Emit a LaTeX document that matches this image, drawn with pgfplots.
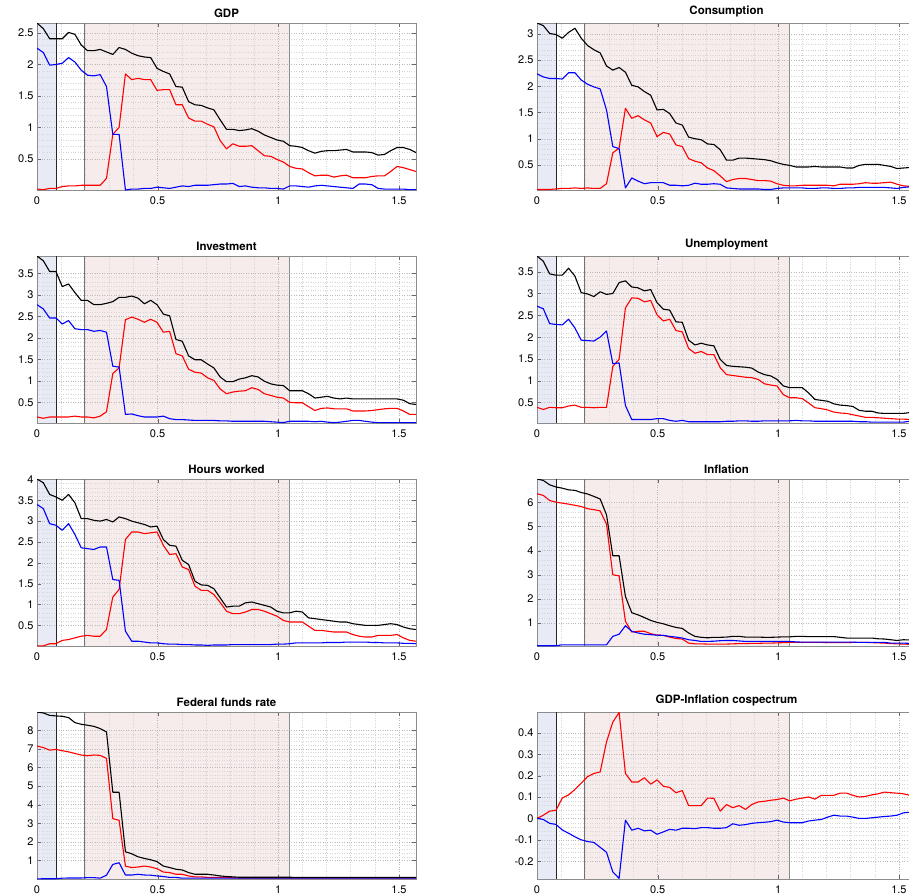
\documentclass[border=0pt]{standalone}
\usepackage{fontspec}
\setmainfont{TeX Gyre Heros}
\usepackage{pgfplots}
\usepackage{pgfplotstable}
\pgfplotsset{compat=1.18}
\definecolor{bshade}{RGB}{232,234,246}
\definecolor{pshade}{RGB}{246,236,236}
\definecolor{mred}{RGB}{255,0,0}
\definecolor{mblue}{RGB}{0,0,255}

\pgfplotstableread{
x b r u
0 2.66 0.02 2.26
0.0262 2.57 0.01 2.19
0.0524 2.41 0.03 1.99
0.0785 2.41 0.03 2.00
0.1047 2.41 0.06 2.02
0.1309 2.51 0.07 2.11
0.1571 2.48 0.07 2.04
0.1833 2.31 0.08 1.91
0.2094 2.22 0.08 1.83
0.2356 2.22 0.08 1.82
0.2618 2.24 0.08 1.84
0.2880 2.20 0.19 1.65
0.3142 2.16 0.89 0.89
0.3403 2.27 1.00 0.89
0.3665 2.24 1.85 0.005
0.3927 2.18 1.76 0.02
0.4189 2.14 1.78 0.02
0.4451 2.12 1.76 0.03
0.4712 2.11 1.76 0.03
0.4974 1.94 1.59 0.05
0.5236 1.89 1.60 0.04
0.5498 1.85 1.60 0.03
0.5760 1.65 1.36 0.05
0.6021 1.64 1.36 0.07
0.6283 1.41 1.15 0.06
0.6545 1.36 1.10 0.08
0.6807 1.35 1.10 0.08
0.7069 1.31 1.05 0.08
0.7330 1.28 1.01 0.09
0.7592 1.12 0.79 0.10
0.7854 0.97 0.66 0.10
0.8116 0.97 0.74 0.11
0.8378 0.95 0.70 0.06
0.8639 0.96 0.70 0.07
0.8901 0.98 0.71 0.05
0.9163 0.94 0.63 0.04
0.9425 0.88 0.55 0.04
0.9687 0.84 0.54 0.03
0.9948 0.80 0.49 0.03
1.0210 0.78 0.45 0.02
1.0472 0.71 0.38 0.07
1.0734 0.70 0.35 0.07
1.0996 0.68 0.34 0.06
1.1257 0.63 0.28 0.05
1.1519 0.59 0.23 0.07
1.1781 0.62 0.24 0.08
1.2043 0.63 0.24 0.07
1.2305 0.63 0.21 0.06
1.2566 0.64 0.23 0.05
1.2828 0.65 0.24 0.04
1.3090 0.61 0.20 0.03
1.3352 0.61 0.20 0.10
1.3614 0.61 0.20 0.10
1.3875 0.60 0.22 0.09
1.4137 0.56 0.23 0.03
1.4399 0.57 0.23 0.02
1.4661 0.63 0.30 0.02
1.4923 0.68 0.38 0.02
1.5184 0.68 0.36 0.02
1.5446 0.65 0.33 0.01
1.5708 0.60 0.30 0.01
}\gdp

\pgfplotstableread{
x b r u
0 3.21 0.03 2.24
0.0262 3.16 0.03 2.18
0.0524 3.01 0.03 2.15
0.0785 2.99 0.04 2.15
0.1047 2.92 0.05 2.14
0.1309 3.03 0.05 2.26
0.1571 3.11 0.06 2.26
0.1833 2.92 0.05 2.12
0.2094 2.78 0.06 2.04
0.2356 2.70 0.05 1.99
0.2618 2.64 0.05 1.95
0.2880 2.39 0.14 1.55
0.3142 2.31 0.73 0.85
0.3403 2.36 0.82 0.81
0.3665 2.27 1.58 0.06
0.3927 2.02 1.39 0.25
0.4189 1.99 1.44 0.19
0.4451 1.90 1.36 0.14
0.4712 1.83 1.30 0.16
0.4974 1.55 1.04 0.16
0.5236 1.56 1.12 0.16
0.5498 1.48 1.09 0.11
0.5760 1.30 0.88 0.11
0.6021 1.26 0.85 0.10
0.6283 1.03 0.62 0.11
0.6545 1.00 0.57 0.15
0.6807 0.98 0.54 0.13
0.7069 0.90 0.44 0.13
0.7330 0.89 0.39 0.14
0.7592 0.79 0.29 0.13
0.7854 0.59 0.18 0.06
0.8116 0.59 0.22 0.05
0.8378 0.63 0.24 0.04
0.8639 0.63 0.24 0.04
0.8901 0.62 0.22 0.04
0.9163 0.61 0.20 0.04
0.9425 0.60 0.20 0.03
0.9687 0.58 0.19 0.03
0.9948 0.54 0.14 0.05
1.0210 0.51 0.11 0.06
1.0472 0.49 0.10 0.06
1.0734 0.46 0.10 0.06
1.0996 0.46 0.11 0.06
1.1257 0.46 0.11 0.05
1.1519 0.47 0.11 0.05
1.1781 0.46 0.11 0.06
1.2043 0.46 0.11 0.06
1.2305 0.46 0.10 0.05
1.2566 0.46 0.13 0.05
1.2828 0.44 0.13 0.06
1.3090 0.44 0.13 0.06
1.3352 0.49 0.14 0.07
1.3614 0.51 0.16 0.07
1.3875 0.51 0.15 0.07
1.4137 0.51 0.15 0.07
1.4399 0.49 0.16 0.07
1.4661 0.47 0.17 0.06
1.4923 0.43 0.13 0.05
1.5184 0.44 0.10 0.07
1.5446 0.45 0.09 0.08
1.5708 0.45 0.08 0.09
}\cons

\pgfplotstableread{
x b r u
0 3.90 0.16 2.77
0.0262 3.79 0.13 2.67
0.0524 3.54 0.16 2.46
0.0785 3.54 0.16 2.46
0.1047 3.19 0.16 2.32
0.1309 3.25 0.16 2.40
0.1571 3.05 0.18 2.21
0.1833 2.87 0.16 2.19
0.2094 2.87 0.16 2.19
0.2356 2.77 0.14 2.15
0.2618 2.77 0.18 2.17
0.2880 2.80 0.28 2.13
0.3142 2.84 1.17 1.34
0.3403 2.94 1.30 1.32
0.3665 2.94 2.42 0.22
0.3927 2.97 2.48 0.23
0.4189 2.92 2.43 0.19
0.4451 2.79 2.36 0.16
0.4712 2.87 2.43 0.16
0.4974 2.77 2.36 0.16
0.5236 2.55 2.13 0.18
0.5498 2.51 2.15 0.12
0.5760 1.96 1.63 0.10
0.6021 1.92 1.58 0.10
0.6283 1.58 1.27 0.09
0.6545 1.49 1.20 0.08
0.6807 1.49 1.18 0.08
0.7069 1.39 1.07 0.08
0.7330 1.30 1.01 0.08
0.7592 1.09 0.81 0.07
0.7854 0.98 0.70 0.07
0.8116 0.98 0.74 0.06
0.8378 1.04 0.76 0.06
0.8639 1.07 0.77 0.06
0.8901 1.12 0.84 0.06
0.9163 1.09 0.80 0.06
0.9425 0.99 0.70 0.06
0.9687 0.93 0.66 0.05
0.9948 0.90 0.62 0.04
1.0210 0.89 0.60 0.03
1.0472 0.77 0.50 0.06
1.0734 0.77 0.49 0.06
1.0996 0.77 0.49 0.06
1.1257 0.70 0.40 0.06
1.1519 0.60 0.31 0.05
1.1781 0.62 0.36 0.06
1.2043 0.64 0.37 0.04
1.2305 0.60 0.35 0.03
1.2566 0.58 0.35 0.04
1.2828 0.60 0.35 0.06
1.3090 0.58 0.30 0.08
1.3352 0.58 0.30 0.08
1.3614 0.58 0.30 0.06
1.3875 0.58 0.31 0.04
1.4137 0.58 0.33 0.03
1.4399 0.58 0.35 0.03
1.4661 0.58 0.36 0.03
1.4923 0.58 0.36 0.03
1.5184 0.55 0.30 0.03
1.5446 0.47 0.22 0.03
1.5708 0.45 0.22 0.03
}\inv

\pgfplotstableread{
x b r u
0 3.86 0.39 2.71
0.0262 3.74 0.34 2.65
0.0524 3.45 0.39 2.31
0.0785 3.42 0.38 2.29
0.1047 3.42 0.38 2.28
0.1309 3.58 0.42 2.41
0.1571 3.40 0.44 2.21
0.1833 3.02 0.39 1.93
0.2094 2.99 0.39 1.92
0.2356 2.93 0.38 1.91
0.2618 3.04 0.39 2.00
0.2880 2.98 0.39 2.14
0.3142 3.00 1.33 1.39
0.3403 3.25 1.49 1.41
0.3665 3.29 2.67 0.43
0.3927 3.15 2.90 0.11
0.4189 3.13 2.89 0.11
0.4451 3.06 2.81 0.11
0.4712 3.09 2.84 0.11
0.4974 2.79 2.51 0.13
0.5236 2.64 2.37 0.13
0.5498 2.62 2.41 0.09
0.5760 2.35 2.15 0.07
0.6021 2.34 2.12 0.09
0.6283 1.93 1.74 0.06
0.6545 1.82 1.63 0.06
0.6807 1.86 1.67 0.06
0.7069 1.82 1.60 0.06
0.7330 1.80 1.60 0.06
0.7592 1.49 1.30 0.06
0.7854 1.35 1.14 0.07
0.8116 1.33 1.12 0.07
0.8378 1.32 1.10 0.08
0.8639 1.31 1.08 0.08
0.8901 1.29 1.07 0.07
0.9163 1.20 1.03 0.07
0.9425 1.14 0.93 0.08
0.9687 1.11 0.90 0.08
0.9948 1.03 0.88 0.08
1.0210 0.88 0.68 0.08
1.0472 0.84 0.61 0.08
1.0734 0.84 0.61 0.09
1.0996 0.84 0.59 0.08
1.1257 0.72 0.49 0.08
1.1519 0.57 0.38 0.07
1.1781 0.55 0.36 0.07
1.2043 0.53 0.33 0.07
1.2305 0.47 0.28 0.07
1.2566 0.44 0.26 0.07
1.2828 0.43 0.25 0.07
1.3090 0.41 0.22 0.07
1.3352 0.32 0.19 0.06
1.3614 0.30 0.16 0.06
1.3875 0.30 0.16 0.05
1.4137 0.26 0.15 0.05
1.4399 0.25 0.14 0.05
1.4661 0.25 0.13 0.05
1.4923 0.25 0.12 0.05
1.5184 0.25 0.12 0.05
1.5446 0.27 0.11 0.07
1.5708 0.30 0.10 0.08
}\unemp

\pgfplotstableread{
x b r u
0 4.01 0.01 3.40
0.0262 3.92 0.01 3.30
0.0524 3.64 0.06 2.94
0.0785 3.58 0.06 2.90
0.1047 3.50 0.14 2.78
0.1309 3.64 0.16 2.94
0.1571 3.44 0.20 2.68
0.1833 3.06 0.24 2.36
0.2094 3.06 0.26 2.34
0.2356 3.02 0.24 2.32
0.2618 3.00 0.24 2.38
0.2880 3.04 0.40 2.38
0.3142 2.98 1.18 1.60
0.3403 3.10 1.36 1.58
0.3665 3.06 2.56 0.36
0.3927 3.00 2.74 0.12
0.4189 2.96 2.74 0.12
0.4451 2.92 2.70 0.10
0.4712 2.86 2.72 0.08
0.4974 2.88 2.74 0.08
0.5236 2.56 2.42 0.06
0.5498 2.42 2.20 0.05
0.5760 2.40 2.22 0.05
0.6021 2.06 1.90 0.04
0.6283 1.96 1.84 0.04
0.6545 1.56 1.44 0.03
0.6807 1.47 1.34 0.03
0.7069 1.46 1.34 0.02
0.7330 1.38 1.24 0.03
0.7592 1.16 1.05 0.03
0.7854 0.94 0.84 0.03
0.8116 0.96 0.78 0.04
0.8378 0.96 0.78 0.04
0.8639 1.04 0.82 0.04
0.8901 1.06 0.88 0.04
0.9163 1.02 0.88 0.04
0.9425 0.98 0.84 0.04
0.9687 0.94 0.78 0.04
0.9948 0.84 0.72 0.05
1.0210 0.80 0.62 0.05
1.0472 0.80 0.58 0.06
1.0734 0.84 0.58 0.08
1.0996 0.82 0.58 0.08
1.1257 0.68 0.48 0.08
1.1519 0.66 0.38 0.08
1.1781 0.64 0.38 0.08
1.2043 0.62 0.36 0.09
1.2305 0.60 0.34 0.09
1.2566 0.58 0.34 0.09
1.2828 0.58 0.34 0.10
1.3090 0.54 0.28 0.10
1.3352 0.52 0.24 0.10
1.3614 0.50 0.22 0.10
1.3875 0.50 0.22 0.09
1.4137 0.50 0.26 0.09
1.4399 0.52 0.26 0.08
1.4661 0.54 0.26 0.08
1.4923 0.52 0.28 0.08
1.5184 0.46 0.20 0.07
1.5446 0.42 0.14 0.07
1.5708 0.40 0.12 0.06
}\hours

\pgfplotstableread{
x b r u
0 6.97 6.36 0.06
0.0262 6.91 6.29 0.06
0.0524 6.73 6.08 0.06
0.0785 6.64 6.01 0.06
0.1047 6.59 5.97 0.10
0.1309 6.52 5.93 0.10
0.1571 6.50 5.88 0.10
0.1833 6.41 5.83 0.10
0.2094 6.35 5.74 0.10
0.2356 6.25 5.70 0.10
0.2618 6.14 5.65 0.10
0.2880 5.49 5.10 0.10
0.3142 3.79 3.00 0.45
0.3403 3.79 2.96 0.54
0.3665 2.10 1.07 0.89
0.3927 1.43 0.63 0.66
0.4189 1.34 0.66 0.59
0.4451 1.23 0.66 0.54
0.4712 1.11 0.56 0.52
0.4974 1.03 0.50 0.50
0.5236 0.97 0.49 0.49
0.5498 0.89 0.42 0.45
0.5760 0.82 0.36 0.42
0.6021 0.78 0.34 0.38
0.6283 0.59 0.17 0.31
0.6545 0.45 0.14 0.28
0.6807 0.41 0.14 0.24
0.7069 0.39 0.13 0.24
0.7330 0.41 0.13 0.25
0.7592 0.41 0.13 0.27
0.7854 0.42 0.13 0.28
0.8116 0.45 0.14 0.28
0.8378 0.45 0.15 0.26
0.8639 0.42 0.15 0.24
0.8901 0.42 0.16 0.24
0.9163 0.42 0.16 0.24
0.9425 0.41 0.17 0.24
0.9687 0.41 0.17 0.24
0.9948 0.42 0.18 0.24
1.0210 0.43 0.19 0.24
1.0472 0.43 0.20 0.24
1.0734 0.45 0.20 0.22
1.0996 0.45 0.20 0.21
1.1257 0.44 0.20 0.21
1.1519 0.44 0.20 0.21
1.1781 0.44 0.20 0.21
1.2043 0.44 0.19 0.21
1.2305 0.44 0.19 0.21
1.2566 0.41 0.19 0.21
1.2828 0.38 0.19 0.21
1.3090 0.38 0.20 0.21
1.3352 0.38 0.20 0.20
1.3614 0.38 0.20 0.20
1.3875 0.38 0.19 0.20
1.4137 0.35 0.18 0.20
1.4399 0.34 0.17 0.20
1.4661 0.31 0.15 0.17
1.4923 0.28 0.14 0.17
1.5184 0.31 0.13 0.17
1.5446 0.30 0.12 0.16
1.5708 0.30 0.12 0.16
}\infl

\pgfplotstableread{
x b r u
0 8.98 7.15 0.01
0.0262 8.93 7.07 0.02
0.0524 8.80 6.93 0.02
0.0785 8.77 6.97 0.02
0.1047 8.75 6.90 0.05
0.1309 8.68 6.84 0.06
0.1571 8.41 6.75 0.06
0.1833 8.32 6.67 0.06
0.2094 8.27 6.63 0.08
0.2356 8.21 6.67 0.08
0.2618 8.09 6.65 0.05
0.2880 7.91 6.49 0.21
0.3142 4.67 3.25 0.79
0.3403 4.67 3.16 0.88
0.3665 1.47 0.70 0.22
0.3927 1.36 0.62 0.22
0.4189 1.20 0.65 0.26
0.4451 1.11 0.70 0.22
0.4712 1.04 0.65 0.21
0.4974 0.94 0.56 0.17
0.5236 0.70 0.38 0.14
0.5498 0.62 0.35 0.09
0.5760 0.53 0.26 0.09
0.6021 0.49 0.26 0.05
0.6283 0.35 0.17 0.05
0.6545 0.26 0.12 0.05
0.6807 0.26 0.12 0.05
0.7069 0.26 0.09 0.05
0.7330 0.22 0.09 0.05
0.7592 0.17 0.09 0.05
0.7854 0.14 0.09 0.05
0.8116 0.12 0.07 0.05
0.8378 0.10 0.06 0.05
0.8639 0.10 0.05 0.05
0.8901 0.10 0.05 0.05
0.9163 0.10 0.05 0.05
0.9425 0.10 0.05 0.05
0.9687 0.10 0.05 0.05
0.9948 0.10 0.05 0.05
1.0210 0.10 0.05 0.05
1.0472 0.10 0.05 0.05
1.0734 0.09 0.05 0.05
1.0996 0.09 0.05 0.05
1.1257 0.09 0.05 0.05
1.1519 0.09 0.05 0.05
1.1781 0.09 0.05 0.05
1.2043 0.09 0.05 0.05
1.2305 0.09 0.05 0.05
1.2566 0.09 0.05 0.05
1.2828 0.09 0.05 0.05
1.3090 0.09 0.05 0.05
1.3352 0.09 0.05 0.05
1.3614 0.09 0.05 0.05
1.3875 0.09 0.05 0.05
1.4137 0.09 0.05 0.05
1.4399 0.09 0.05 0.05
1.4661 0.09 0.05 0.05
1.4923 0.09 0.05 0.05
1.5184 0.09 0.05 0.05
1.5446 0.09 0.05 0.05
1.5708 0.09 0.05 0.05
}\ffr

\pgfplotstableread{
x r u
0 0.000 0.000
0.0262 0.015 -0.005
0.0524 0.034 -0.023
0.0785 0.038 -0.028
0.1047 0.095 -0.054
0.1309 0.110 -0.069
0.1571 0.135 -0.086
0.1833 0.165 -0.100
0.2094 0.195 -0.108
0.2356 0.210 -0.112
0.2618 0.217 -0.135
0.2880 0.357 -0.158
0.3142 0.450 -0.250
0.3403 0.495 -0.280
0.3665 0.210 -0.008
0.3927 0.170 -0.055
0.4189 0.170 -0.046
0.4451 0.190 -0.058
0.4712 0.160 -0.055
0.4974 0.180 -0.074
0.5236 0.150 -0.063
0.5498 0.145 -0.051
0.5760 0.120 -0.055
0.6021 0.130 -0.046
0.6283 0.060 -0.046
0.6545 0.060 -0.048
0.6807 0.060 -0.043
0.7069 0.095 -0.043
0.7330 0.094 -0.046
0.7592 0.034 -0.046
0.7854 0.065 -0.043
0.8116 0.050 -0.025
0.8378 0.060 -0.032
0.8639 0.042 -0.029
0.8901 0.065 -0.023
0.9163 0.077 -0.020
0.9425 0.080 -0.018
0.9687 0.085 -0.015
0.9948 0.088 -0.008
1.0210 0.095 -0.017
1.0472 0.082 -0.020
1.0734 0.090 -0.020
1.0996 0.095 -0.020
1.1257 0.100 -0.012
1.1519 0.090 -0.008
1.1781 0.108 -0.005
1.2043 0.108 0.006
1.2305 0.108 0.015
1.2566 0.118 0.011
1.2828 0.118 0.011
1.3090 0.108 0.006
1.3352 0.100 0.000
1.3614 0.103 0.000
1.3875 0.110 0.003
1.4137 0.115 0.006
1.4399 0.123 0.009
1.4661 0.120 0.011
1.4923 0.118 0.015
1.5184 0.115 0.026
1.5446 0.108 0.029
1.5708 0.105 0.033
}\cosp

\pgfplotsset{
  panel/.style={
    set layers,
    scale only axis, width=379pt, height=167pt,
    xmin=0, xmax=1.5708,
    xtick={0,0.5,1,1.5},
    xticklabels={0,0.5,1,1.5},
    minor x tick num=4, minor y tick num=4,
    grid=both,
    major grid style={dotted, black!28},
    minor grid style={dotted, black!16},
    minor tick length=0pt,
    major tick length=4pt,
    tick align=inside,
    tick style={black!60},
    axis line style={black!45},
    ticklabel style={font=\fontsize{11}{13}\selectfont},
    xticklabel style={yshift=-3pt},
    /pgf/number format/assume math mode=true,
    title style={font=\fontsize{11.5}{13}\selectfont\bfseries, at={(0.5,1)}, anchor=south, yshift=-4pt},
    every axis plot/.append style={line width=1.1pt, line join=round},
    anchor=north west,
  }
}

\newcommand\bands{%
  \begin{pgfonlayer}{axis background}
    \fill[bshade] (rel axis cs:0,0) rectangle (rel axis cs:0.05,1);
    \fill[pshade] (rel axis cs:0.125,0) rectangle (rel axis cs:0.66667,1);
  \end{pgfonlayer}
  \draw[black!85, line width=0.7pt] (rel axis cs:0.05,0) -- (rel axis cs:0.05,1);
  \draw[black!55, line width=0.7pt] (rel axis cs:0.125,0) -- (rel axis cs:0.125,1);
  \draw[black!45, line width=0.7pt] (rel axis cs:0.66667,0) -- (rel axis cs:0.66667,1);
}

\begin{document}
\begin{tikzpicture}

% Row 1
\begin{axis}[panel, at={(37pt,-23pt)}, title={GDP}, ymin=0.005, ymax=2.66, ytick={0.5,1,1.5,2,2.5}]
\bands
\addplot[mred] table[x=x,y=r]{\gdp};
\addplot[mblue] table[x=x,y=u]{\gdp};
\addplot[black] table[x=x,y=b]{\gdp};
\end{axis}
\begin{axis}[panel, at={(537pt,-23pt)}, title={Consumption}, ymin=0.02, ymax=3.21, ytick={0.5,1,1.5,2,2.5,3}]
\bands
\addplot[mred] table[x=x,y=r]{\cons};
\addplot[mblue] table[x=x,y=u]{\cons};
\addplot[black] table[x=x,y=b]{\cons};
\end{axis}

% Row 2
\begin{axis}[panel, at={(37pt,-256pt)}, title={Investment}, ymin=0.02, ymax=3.90, ytick={0.5,1,1.5,2,2.5,3,3.5}]
\bands
\addplot[mred] table[x=x,y=r]{\inv};
\addplot[mblue] table[x=x,y=u]{\inv};
\addplot[black] table[x=x,y=b]{\inv};
\end{axis}
\begin{axis}[panel, at={(537pt,-256pt)}, title={Unemployment}, ymin=0.03, ymax=3.86, ytick={0.5,1,1.5,2,2.5,3,3.5}]
\bands
\addplot[mred] table[x=x,y=r]{\unemp};
\addplot[mblue] table[x=x,y=u]{\unemp};
\addplot[black] table[x=x,y=b]{\unemp};
\end{axis}

% Row 3
\begin{axis}[panel, at={(37pt,-479pt)}, title={Hours worked}, ymin=0.005, ymax=4.01, ytick={0.5,1,1.5,2,2.5,3,3.5,4}]
\bands
\addplot[mred] table[x=x,y=r]{\hours};
\addplot[mblue] table[x=x,y=u]{\hours};
\addplot[black] table[x=x,y=b]{\hours};
\end{axis}
\begin{axis}[panel, at={(537pt,-479pt)}, title={Inflation}, ymin=0.05, ymax=6.97, ytick={1,2,3,4,5,6}]
\bands
\addplot[mred] table[x=x,y=r]{\infl};
\addplot[mblue] table[x=x,y=u]{\infl};
\addplot[black] table[x=x,y=b]{\infl};
\end{axis}

% Row 4
\begin{axis}[panel, at={(37pt,-712pt)}, title={Federal funds rate}, ymin=0.005, ymax=8.98, ytick={1,2,3,4,5,6,7,8}]
\bands
\addplot[mred] table[x=x,y=r]{\ffr};
\addplot[mblue] table[x=x,y=u]{\ffr};
\addplot[black] table[x=x,y=b]{\ffr};
\end{axis}
\begin{axis}[panel, at={(537pt,-712pt)}, title={GDP-Inflation cospectrum}, ymin=-0.283, ymax=0.497, ytick={-0.2,-0.1,0,0.1,0.2,0.3,0.4}]
\bands
\addplot[mred] table[x=x,y=r]{\cosp};
\addplot[mblue] table[x=x,y=u]{\cosp};
\end{axis}

\pgfresetboundingbox
\useasboundingbox (0pt,0pt) rectangle (909pt,-895pt);
\end{tikzpicture}
\end{document}
